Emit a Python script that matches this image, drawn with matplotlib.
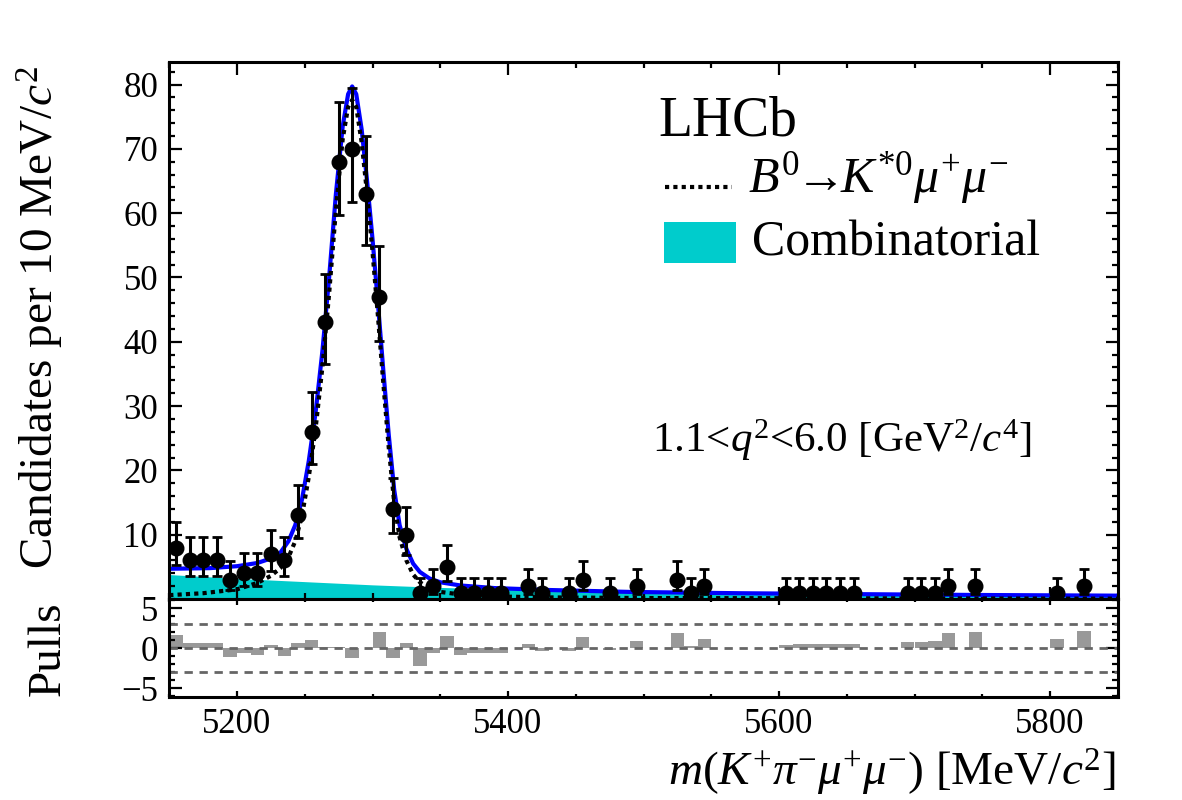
import math
import numpy as np
import matplotlib
matplotlib.use("Agg")
import matplotlib.pyplot as plt
from matplotlib.ticker import MultipleLocator, FixedLocator
from matplotlib.lines import Line2D
from matplotlib.patches import Rectangle

plt.rcParams['font.family'] = ['Liberation Serif', 'DejaVu Serif']
plt.rcParams['mathtext.fontset'] = 'custom'
plt.rcParams['mathtext.rm'] = 'Liberation Serif'
plt.rcParams['mathtext.it'] = 'Liberation Serif:italic'
plt.rcParams['mathtext.bf'] = 'Liberation Serif:bold'

# ----------------------------------------------------------------
# Data (10 MeV bins, only non-empty bins)
centers = [5155, 5165, 5175, 5185, 5195, 5205, 5215, 5225, 5235, 5245,
           5255, 5265, 5275, 5285, 5295, 5305, 5315, 5325, 5335, 5345,
           5355, 5365, 5375, 5385, 5395, 5415, 5425, 5445, 5455, 5475,
           5495, 5525, 5535, 5545, 5605, 5615, 5625, 5635, 5645, 5655,
           5695, 5705, 5715, 5725, 5745, 5805, 5825]
counts = [8, 6, 6, 6, 3, 4, 4, 7, 6, 13,
          26, 43, 68, 70, 63, 47, 14, 10, 1, 2,
          5, 1, 1, 1, 1, 2, 1, 1, 3, 1,
          2, 3, 1, 2, 1, 1, 1, 1, 1, 1,
          1, 1, 1, 2, 2, 1, 2]
pulls = [1.7, 0.7, 0.7, 0.6, -1.1, -0.6, -0.9, 0.4, -1.0, 0.6,
         1.0, 0.1, 0.1, -1.25, 0.0, 2.0, -1.2, 0.7, -2.2, -0.6,
         1.55, -0.9, -0.65, -0.65, -0.65, 0.5, -0.4, -0.4, 1.4, -0.2,
         0.95, 1.9, 0.3, 1.15, 0.45, 0.48, 0.5, 0.52, 0.55, 0.58,
         0.75, 0.8, 0.85, 1.9, 2.0, 1.1, 2.2]

# total fit (blue)
tot_x = [5150, 5180, 5200, 5215, 5225, 5232, 5238, 5243, 5248, 5253,
         5258, 5263, 5268, 5273, 5278, 5282, 5285, 5288, 5292, 5296,
         5300, 5304, 5308, 5312, 5316, 5320, 5325, 5330, 5335, 5342,
         5350, 5365, 5390, 5430, 5490, 5570, 5660, 5750, 5850]
tot_y = [4.7, 4.8, 5.1, 5.6, 6.3, 7.2, 9.0, 11.5, 15.5, 21.5,
         29, 38.5, 50, 63, 73.5, 78.5, 79.7, 78.5, 73, 65,
         56, 46, 35.5, 25.5, 17, 11.5, 7.8, 5.5, 4.2, 3.2,
         2.6, 2.1, 1.7, 1.4, 1.1, 0.9, 0.75, 0.62, 0.52]

# signal component (dotted)
sig_x = [5150, 5175, 5200, 5215, 5225, 5232, 5238, 5243, 5248, 5253,
         5258, 5263, 5268, 5273, 5278, 5282, 5285, 5288, 5292, 5296,
         5300, 5304, 5308, 5312, 5316, 5320, 5325, 5330, 5335, 5342,
         5350, 5365, 5390, 5430, 5500, 5850]
sig_y = [0.6, 0.9, 1.5, 2.5, 3.6, 4.8, 6.5, 9.0, 13, 19,
         26.5, 36, 47.5, 60.5, 71.5, 76.5, 77.6, 76.5, 71, 63,
         54, 44, 33.5, 23.5, 15, 9.6, 6.0, 3.8, 2.6, 1.7,
         1.1, 0.7, 0.4, 0.25, 0.15, 0.05]

# combinatorial background (cyan)
comb_x = [5150, 5200, 5250, 5300, 5350, 5400, 5450, 5500, 5600, 5700, 5850]
comb_y = [3.8, 3.2, 2.7, 2.2, 1.8, 1.5, 1.25, 1.05, 0.8, 0.6, 0.4]

# ----------------------------------------------------------------
# Poisson (Garwood) 68% intervals for the error bars
def pois_cdf(k, mu):
    s, term = 0.0, math.exp(-mu)
    for i in range(k + 1):
        if i > 0:
            term *= mu / i
        s += term
    return s

def solve(f, target, lo=0.0, hi=200.0):
    for _ in range(80):
        mid = 0.5 * (lo + hi)
        if f(mid) > target:
            lo = mid
        else:
            hi = mid
    return 0.5 * (lo + hi)

a = 0.5 * (1 - 0.6827)
err_lo, err_hi = [], []
for n in counts:
    up = solve(lambda m: pois_cdf(n, m), a)
    dn = 0.0 if n == 0 else solve(lambda m: pois_cdf(n - 1, m), 1 - a)
    err_lo.append(n - dn)
    err_hi.append(up - n)

# ----------------------------------------------------------------
W, H = 1182, 800
fig = plt.figure(figsize=(W / 100, H / 100), dpi=100)

def fx(x):
    return x / W

def fy(y):
    return 1 - y / H

left, right = 169.25, 1117.75
ax = fig.add_axes([fx(left), fy(599), fx(right - left), (599 - 62) / H])
axp = fig.add_axes([fx(left), fy(697), fx(right - left), (697 - 599) / H], sharex=ax)

ax.fill_between(comb_x, 0, comb_y, color='#00cccc', lw=0, zorder=1)
ax.plot(tot_x, tot_y, color='#0000ff', lw=3, zorder=2)
ax.plot(sig_x, sig_y, color='k', lw=3, ls=(0, (1, 1)), zorder=3)
ax.errorbar(centers, counts, yerr=[err_lo, err_hi], fmt='o', color='k',
            ms=10.5, elinewidth=2.2, capsize=3.5, capthick=2, zorder=4)

ax.set_xlim(5150, 5850)
ax.set_ylim(0, 83.5)
ax.xaxis.set_major_locator(MultipleLocator(200))
ax.xaxis.set_minor_locator(MultipleLocator(50))
ax.yaxis.set_major_locator(FixedLocator(range(10, 81, 10)))
ax.yaxis.set_minor_locator(MultipleLocator(2))
ax.tick_params(which='both', direction='in', top=True, right=True,
               labelbottom=False, labelsize=25, width=1.6, pad=8)
ax.tick_params(which='major', length=9)
ax.tick_params(which='minor', length=4.5)

# pulls
axp.bar(centers, pulls, width=10, color='#999999', lw=0, zorder=1)
for v in (-3, 0, 3):
    axp.axhline(v, color='#666666', lw=2, ls=(0, (3, 2.4)), zorder=2)
axp.set_ylim(-6.1, 6.15)
axp.yaxis.set_major_locator(FixedLocator([-5, 0, 5]))
axp.yaxis.set_minor_locator(MultipleLocator(1))
axp.tick_params(which='both', direction='in', top=True, right=True,
                labelsize=25, width=1.6, pad=8)
axp.tick_params(axis='x', which='major', length=4)
axp.tick_params(axis='x', which='minor', length=2.5)
axp.tick_params(axis='y', which='major', length=9)
axp.tick_params(axis='y', which='minor', length=4.5)
axp.set_yticklabels(['\u22125', '0', '5'])

for a_ in (ax, axp):
    for sp in a_.spines.values():
        sp.set_linewidth(2.2)

# axis titles
fig.text(fx(54), fy(318), 'Candidates per 10 MeV/$c^{2}$', rotation=90,
         rotation_mode='anchor', ha='center', va='baseline', fontsize=34)
fig.text(fx(60), fy(649), 'Pulls', rotation=90,
         rotation_mode='anchor', ha='center', va='baseline', fontsize=34)
fig.text(fx(1116), fy(786), r'$m(K^{+}\pi^{-}\mu^{+}\mu^{-})$ [MeV/$c^{2}$]',
         ha='right', va='baseline', fontsize=34)

# legend
fig.text(fx(658), fy(135), 'LHCb', fontsize=40, va='baseline')
fig.add_artist(Line2D([fx(665), fx(732)], [fy(187), fy(187)], color='k',
                      lw=3, ls=(0, (1, 1))))
fig.text(fx(748), fy(192), r'$B^{0}\!\!\rightarrow\!\!K^{*0}\mu^{+}\mu^{-}$',
         fontsize=36, va='baseline')
fig.add_artist(Rectangle((fx(664), fy(263)), fx(72), 41 / H,
                         color='#00cccc', lw=0))
fig.text(fx(752), fy(255), 'Combinatorial', fontsize=36, va='baseline')
fig.text(fx(652), fy(452), r'1.1<$q^{2}$<6.0 [GeV$^{2}$/$c^{4}$]',
         fontsize=31, va='baseline')

fig.savefig('out.png', dpi=100)
